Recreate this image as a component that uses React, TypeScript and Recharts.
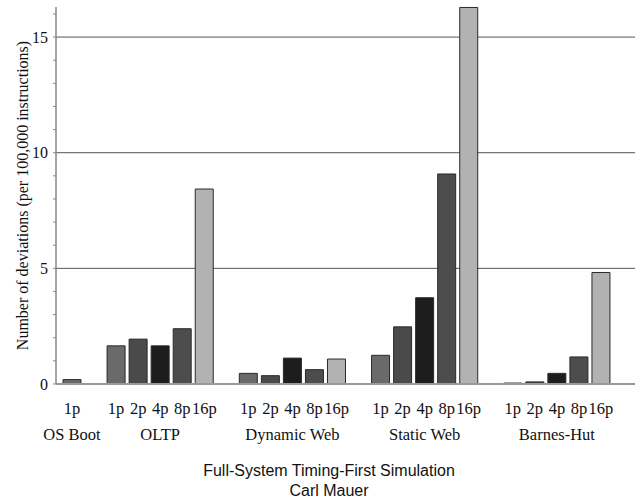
import React from 'react'
import { BarChart, Bar, XAxis, YAxis, CartesianGrid, Cell } from 'recharts'

const groups = ['OS Boot', 'OLTP', 'Dynamic Web', 'Static Web', 'Barnes-Hut']
const procs = ['1p', '2p', '4p', '8p', '16p']

const osBoot = [0.19]
const oltp = [1.65, 1.94, 1.65, 2.39, 8.43]
const dynamicWeb = [0.46, 0.36, 1.12, 0.62, 1.08]
const staticWeb = [1.24, 2.47, 3.73, 9.08, 16.28]
const barnesHut = [0.04, 0.09, 0.46, 1.17, 4.82]

const procColors = ['#6a6a6a', '#4a4a4a', '#1d1d1d', '#4d4d4d', '#b2b2b2']
const yTicks = [0, 1, 2, 3, 4, 5, 6, 7, 8, 9, 10, 11, 12, 13, 14, 15, 16]
const yLabels = [0, 5, 10, 15]
const gridValues = [5, 10, 15]

const serif = '"Liberation Serif", "DejaVu Serif", serif'
const sans = '"Liberation Sans", Arial, sans-serif'

// one row per bar, with an empty spacer row between workloads
const series = [osBoot, oltp, dynamicWeb, staticWeb, barnesHut]
const rows: any[] = []
series.forEach((vals, gi) => {
    if (gi > 0) rows.push({ key: `gap-${gi}`, value: null, proc: '', groupLabel: '' })
    const mid = Math.floor((vals.length - 1) / 2)
    vals.forEach((v, j) => {
        rows.push({
            key: `${groups[gi]}-${procs[j]}`,
            value: v,
            proc: procs[j],
            color: procColors[j],
            groupLabel: j === mid ? groups[gi] : ''
        })
    })
})

const XTick = (props: any) => {
    const { x, y, payload } = props
    const row = rows.find(r => r.key === payload.value)
    if (!row) return null
    return (
        <g>
            <text x={x} y={y + 30} textAnchor="middle" fontFamily={serif} fontSize={16.5} fill="#111">{row.proc}</text>
            {row.groupLabel && (
                <text x={x} y={y + 56} textAnchor="middle" fontFamily={serif} fontSize={16.5} fill="#111">{row.groupLabel}</text>
            )}
        </g>
    )
}

const YTick = (props: any) => {
    const { x, y, payload } = props
    if (!yLabels.includes(payload.value)) return null
    return (
        <text x={x} y={y + 5.5} textAnchor="end" fontFamily={serif} fontSize={16} fill="#111">{payload.value}</text>
    )
}

export default function App() {
    return (
        <div style={{ position: 'absolute', left: 0, top: 0, width: 635, height: 499, background: '#fff' }}>
            <BarChart width={635} height={499} data={rows} margin={{ top: 7, right: 0, left: 0, bottom: 55 }}>
                <CartesianGrid vertical={false} horizontalValues={gridValues} stroke="#555" strokeWidth={1} />
                <XAxis
                    dataKey="key"
                    interval={0}
                    height={60}
                    padding={{ left: 5, right: 23 }}
                    tickLine={false}
                    tickSize={0}
                    tickMargin={0}
                    axisLine={{ stroke: '#999', strokeWidth: 2 }}
                    tick={<XTick />}
                />
                <YAxis
                    width={56}
                    domain={[0, 16.3]}
                    ticks={yTicks}
                    interval={0}
                    tickSize={3}
                    tickMargin={5}
                    axisLine={{ stroke: '#888', strokeWidth: 1.5 }}
                    tickLine={{ stroke: '#888' }}
                    tick={<YTick />}
                    label={{
                        value: 'Number of deviations (per 100,000 instructions)',
                        angle: -90,
                        position: 'insideLeft',
                        offset: 22,
                        style: { textAnchor: 'middle', fontFamily: serif, fontSize: 16, fill: '#111' }
                    }}
                />
                <Bar dataKey="value" barSize={18} stroke="#2a2a2a" strokeWidth={1} isAnimationActive={false}>
                    {rows.map((r, i) => (
                        <Cell key={`cell-${i}`} fill={r.color || '#fff'} />
                    ))}
                </Bar>
            </BarChart>
            <div style={{ position: 'absolute', left: 0, width: 658, top: 461, textAlign: 'center', fontFamily: sans, fontSize: 16, lineHeight: '20px', color: '#111' }}>
                Full-System Timing-First Simulation<br />Carl Mauer
            </div>
        </div>
    )
}
